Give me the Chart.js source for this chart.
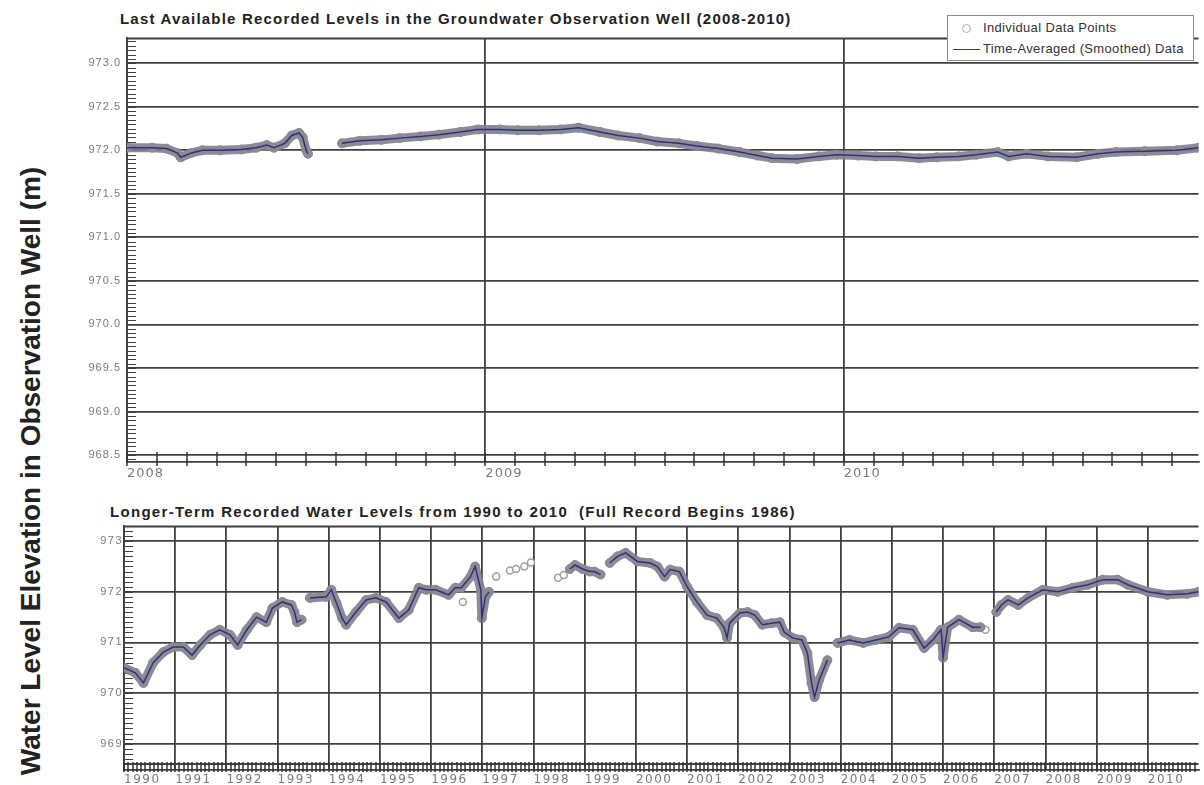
<!DOCTYPE html>
<html>
<head>
<meta charset="utf-8">
<script src="https://cdn.jsdelivr.net/npm/chart.js@4.4.1/dist/chart.umd.min.js"></script>
<style>
  body { margin: 0; background: #fff; width: 1204px; height: 785px; overflow: hidden; position: relative; font-family: "Liberation Sans", Arial, sans-serif; }
  canvas { position: absolute; left: 0; }
  #topChart { top: 0; }
  #bottomChart { top: 490px; }
  .title { position: absolute; font-weight: bold; font-size: 15px; line-height: 16px; letter-spacing: 1.2px; color: #222; white-space: pre; }
  #yTitle { position: absolute; left: 31px; top: 471px; transform: translate(-50%, -50%) rotate(-90deg); font-size: 28px; font-weight: bold; color: #222; white-space: nowrap; }
  #legend { position: absolute; left: 947px; top: 15px; width: 245px; height: 44px; border: 1px solid #8a8a8a; background: #fff; font-size: 13px; letter-spacing: 0.35px; color: #333; }
  #legend .row { position: absolute; left: 0; white-space: nowrap; line-height: 14px; }
  #legend .dot { position: absolute; left: 14px; top: 3px; width: 7px; height: 7px; border: 1px solid #aaa; border-radius: 50%; }
  #legend .line { position: absolute; left: 5px; top: 7px; width: 27px; height: 0; border-top: 1.5px solid #35358a; }
  #legend .txt { position: absolute; left: 35px; top: 0; }
</style>
</head>
<body>
<div class="title" id="topTitle" style="left:120px; top:11px;"></div>
<div class="title" id="bottomTitle" style="left:110px; top:504px; letter-spacing:1.3px;"></div>
<div id="yTitle"></div>
<canvas id="topChart" width="1204" height="490"></canvas>
<canvas id="bottomChart" width="1204" height="295"></canvas>
<div id="legend"></div>
<script>
const topTitle = 'Last Available Recorded Levels in the Groundwater Observation Well (2008-2010)';
const bottomTitle = 'Longer-Term Recorded Water Levels from 1990 to 2010  (Full Record Begins 1986)';
const yTitle = 'Water Level Elevation in Observation Well (m)';
const seriesLabels = ['Individual Data Points', 'Time-Averaged (Smoothed) Data'];

// top panel, 2008-2010 (null = no record)
const topYears = [2008.0, 2008.07, 2008.11, 2008.14, 2008.15, 2008.18, 2008.21, 2008.26, 2008.32, 2008.36,
  2008.39, 2008.41, 2008.44, 2008.46, 2008.48, 2008.49, 2008.5, 2008.505, 2008.53,
  2008.6, 2008.65, 2008.71, 2008.76, 2008.82, 2008.87, 2008.93, 2008.98, 2009.04, 2009.09,
  2009.15, 2009.21, 2009.26, 2009.32, 2009.37, 2009.43, 2009.48, 2009.54, 2009.59, 2009.65,
  2009.71, 2009.76, 2009.8, 2009.87, 2009.93, 2009.98, 2010.04, 2010.09, 2010.15, 2010.21,
  2010.26, 2010.32, 2010.37, 2010.43, 2010.46, 2010.51, 2010.57, 2010.65, 2010.71, 2010.76,
  2010.84, 2010.93, 2010.99];
const topLevels = [972.03, 972.03, 972.02, 971.97, 971.92, 971.97, 972.0, 972.0, 972.01, 972.03,
  972.06, 972.03, 972.08, 972.17, 972.2, 972.15, 972.0, 971.96, null,
  972.08, 972.11, 972.12, 972.14, 972.16, 972.18, 972.21, 972.24, 972.24, 972.23,
  972.23, 972.24, 972.26, 972.21, 972.17, 972.14, 972.1, 972.08, 972.05, 972.02,
  971.98, 971.94, 971.91, 971.9, 971.93, 971.95, 971.94, 971.93, 971.93, 971.91,
  971.92, 971.93, 971.95, 971.98, 971.93, 971.96, 971.93, 971.92, 971.96, 971.98,
  971.99, 972.0, 972.03];

// bottom panel, 1990-2010
const bottomYears = [1990.0, 1990.22, 1990.38, 1990.57, 1990.77, 1990.96, 1991.16, 1991.33, 1991.49, 1991.68,
  1991.87, 1992.07, 1992.22, 1992.4, 1992.59, 1992.78, 1992.9, 1993.09, 1993.27, 1993.33,
  1993.38, 1993.47, 1993.55,
  1993.63, 1993.95, 1994.05, 1994.15, 1994.26, 1994.34, 1994.53, 1994.73, 1994.92, 1995.12,
  1995.37, 1995.56, 1995.76, 1995.9, 1996.09, 1996.34, 1996.47, 1996.59, 1996.77, 1996.86,
  1996.97, 1996.99, 1997.06, 1997.13, 1997.2,
  1998.71, 1998.81, 1998.96, 1999.1, 1999.19, 1999.31, 1999.38,
  1999.49, 1999.64, 1999.8, 2000.03, 2000.28, 2000.42, 2000.56, 2000.67, 2000.85, 2001.0,
  2001.19, 2001.39, 2001.58, 2001.72, 2001.78, 2001.83, 2002.03, 2002.18, 2002.32, 2002.47,
  2002.65, 2002.81, 2002.9, 2003.06, 2003.24, 2003.35, 2003.43, 2003.49, 2003.58, 2003.74, 2003.85,
  2003.94, 2004.17, 2004.44, 2004.69, 2004.94, 2005.14, 2005.41, 2005.63, 2005.8, 2005.96,
  2006.0, 2006.09, 2006.31, 2006.58, 2006.73, 2006.85,
  2007.04, 2007.14, 2007.27, 2007.47, 2007.66, 2007.95, 2008.24, 2008.53, 2008.83, 2009.12,
  2009.41, 2009.61, 2010.0, 2010.38, 2010.77, 2010.99];
const bottomLevels = [970.5, 970.4, 970.2, 970.6, 970.81, 970.91, 970.91, 970.75, 970.95, 971.15,
  971.25, 971.15, 970.95, 971.25, 971.5, 971.4, 971.68, 971.8, 971.74, 971.6,
  971.4, 971.45, null,
  971.88, 971.9, 972.04, 971.78, 971.48, 971.35, 971.6, 971.84, 971.88, 971.8,
  971.48, 971.64, 972.08, 972.04, 972.04, 971.94, 972.08, 972.08, 972.3, 972.5,
  972.04, 971.48, 971.9, 972.0, null,
  972.45, 972.53, 972.45, 972.4, 972.4, 972.34, null,
  972.57, 972.7, 972.77, 972.6, 972.57, 972.5, 972.3, 972.44, 972.4, 972.1,
  971.8, 971.54, 971.48, 971.3, 971.09, 971.38, 971.58, 971.6, 971.54, 971.35,
  971.38, 971.4, 971.2, 971.09, 971.05, 970.79, 970.2, 969.92, 970.26, 970.65, null,
  970.99, 971.05, 970.99, 971.05, 971.11, 971.29, 971.25, 970.89, 971.05, 971.25,
  970.7, 971.3, 971.45, 971.3, 971.3, null,
  971.6, 971.74, 971.84, 971.74, 971.88, 972.04, 972.0, 972.08, 972.14, 972.24,
  972.24, 972.14, 972.0, 971.94, 971.96, 972.0];
// scattered single readings without a smoothed curve
const sparseYears = [1996.62, 1997.27, 1997.54, 1997.66, 1997.82, 1997.95, 1998.48, 1998.59, 2006.83];
const sparseLevels = [971.8, 972.3, 972.42, 972.45, 972.5, 972.58, 972.28, 972.33, 971.25];

const topXTicks = [2008, 2009, 2010];
const topYTicks = [968.5, 969.0, 969.5, 970.0, 970.5, 971.0, 971.5, 972.0, 972.5, 973.0];
const bottomXTicks = [1990, 1991, 1992, 1993, 1994, 1995, 1996, 1997, 1998, 1999, 2000,
  2001, 2002, 2003, 2004, 2005, 2006, 2007, 2008, 2009, 2010];
const bottomYTicks = [969, 970, 971, 972, 973];

document.getElementById('topTitle').textContent = topTitle;
document.getElementById('bottomTitle').textContent = bottomTitle;
document.getElementById('yTitle').textContent = yTitle;
document.getElementById('legend').innerHTML =
  '<div class="row" style="top:5px;width:100%"><span class="dot"></span><span class="txt">' + seriesLabels[0] + '</span></div>' +
  '<div class="row" style="top:26px;width:100%"><span class="line"></span><span class="txt">' + seriesLabels[1] + '</span></div>';

const GRID = '#3f3f3f';
const LABEL = '#7a7a7a';

// frame top edge, inner minor ticks on the left and monthly ticks at the bottom
const axisMarks = {
  id: 'axisMarks',
  beforeDraw(chart, args, o) {
    // the tick labels of the original are widely spaced
    chart.ctx.letterSpacing = o.spacing;
  },
  beforeDatasetsDraw(chart, args, o) {
    const { ctx, chartArea: a, scales: { x, y } } = chart;
    ctx.save();
    ctx.strokeStyle = GRID;
    ctx.lineWidth = 1.8;
    ctx.beginPath();
    ctx.moveTo(a.left, a.top + 0.5);
    ctx.lineTo(a.right, a.top + 0.5);
    if (o.doubleLine) {
      ctx.moveTo(a.left, a.bottom - o.doubleLine);
      ctx.lineTo(a.right, a.bottom - o.doubleLine);
    }
    ctx.stroke();
    ctx.lineWidth = 1;
    ctx.beginPath();
    for (let i = Math.ceil(y.min / o.yStep); i * o.yStep <= y.max; i++) {
      const py = Math.round(y.getPixelForValue(i * o.yStep)) + 0.5;
      ctx.moveTo(a.left, py);
      ctx.lineTo(a.left + o.yLen, py);
    }
    ctx.stroke();
    ctx.lineWidth = 1.5;
    ctx.strokeStyle = '#333';
    ctx.beginPath();
    for (let i = Math.ceil(x.min * 12); i <= Math.floor(x.max * 12); i++) {
      const px = Math.round(x.getPixelForValue(i / 12));
      ctx.moveTo(px, a.bottom - o.xUp);
      ctx.lineTo(px, a.bottom + o.xDown);
    }
    ctx.stroke();
    ctx.restore();
  }
};

const toXY = (xs, ys) => xs.map((x, i) => ({ x: x, y: ys[i] }));

function datasets(years, levels, extraYears, extraLevels) {
  const sets = [
    {
      label: seriesLabels[1], data: toXY(years, levels), order: 0,
      borderColor: '#30307e', borderWidth: 1.5, pointRadius: 0, tension: 0
    },
    {
      label: seriesLabels[0], data: toXY(years, levels), order: 1,
      borderColor: 'rgba(128,128,142,0.9)', borderWidth: 9, borderJoinStyle: 'round', borderCapStyle: 'round',
      pointRadius: 4.5, pointBackgroundColor: 'rgba(140,140,150,0.9)', pointBorderColor: '#8a8a8a', pointBorderWidth: 1
    }
  ];
  if (extraYears) {
    sets.push({
      label: seriesLabels[0], data: toXY(extraYears, extraLevels), order: 2, showLine: false,
      pointRadius: 3.5, pointBackgroundColor: '#fff', pointBorderColor: '#a0a0a0', pointBorderWidth: 1.5
    });
  }
  return sets;
}

function panel(id, cfg) {
  return new Chart(document.getElementById(id), {
    type: 'line',
    data: { datasets: datasets(cfg.years, cfg.levels, cfg.extraYears, cfg.extraLevels) },
    options: {
      responsive: false,
      animation: false,
      layout: { padding: { top: cfg.padTop, left: 0, right: 0, bottom: 0 } },
      plugins: {
        legend: { display: false },
        tooltip: { enabled: false },
        axisMarks: cfg.marks
      },
      scales: {
        x: {
          type: 'linear', min: cfg.xMin, max: cfg.xMax,
          afterBuildTicks: (s) => { s.ticks = cfg.xTicks.map(v => ({ value: v })); },
          afterFit: (s) => { s.height = cfg.xHeight; },
          grid: { color: GRID, lineWidth: 1.8, drawTicks: false },
          border: { display: true, color: GRID, width: 1.8 },
          ticks: {
            align: 'start', padding: cfg.xPad, color: LABEL, autoSkip: false, maxRotation: 0,
            font: { family: 'DejaVu Sans', size: cfg.xFont },
            callback: (v) => String(v)
          }
        },
        y: {
          min: cfg.yMin, max: cfg.yMax,
          afterBuildTicks: (s) => { s.ticks = cfg.yTicks.map(v => ({ value: v })); },
          afterFit: (s) => { s.width = cfg.yWidth; },
          grid: { color: GRID, lineWidth: 1.8, drawTicks: false },
          border: { display: true, color: GRID, width: 1.8 },
          ticks: {
            padding: cfg.yPad, color: LABEL,
            font: { family: 'Liberation Sans', size: 11 },
            callback: cfg.yFormat
          }
        }
      }
    },
    plugins: [axisMarks]
  });
}

panel('topChart', {
  years: topYears, levels: topLevels,
  xMin: 2008, xMax: 2010.99, yMin: 968.42, yMax: 973.29,
  xTicks: topXTicks, yTicks: topYTicks,
  padTop: 38, xHeight: 28, yWidth: 127, xPad: 4, yPad: 6, xFont: 13,
  yFormat: (v) => v.toFixed(1),
  marks: { yStep: 0.05, yLen: 9, xUp: 10, xDown: 4, doubleLine: 0, spacing: '1px' }
});

panel('bottomChart', {
  years: bottomYears, levels: bottomLevels, extraYears: sparseYears, extraLevels: sparseLevels,
  xMin: 1990, xMax: 2010.99, yMin: 968.48, yMax: 973.3,
  xTicks: bottomXTicks, yTicks: bottomYTicks,
  padTop: 36, xHeight: 15, yWidth: 124, xPad: 3, yPad: 1, xFont: 12,
  yFormat: (v) => String(v),
  marks: { yStep: 0.1, yLen: 9, xUp: 8, xDown: 2, doubleLine: 6, spacing: '1.5px' }
});
</script>
</body>
</html>
